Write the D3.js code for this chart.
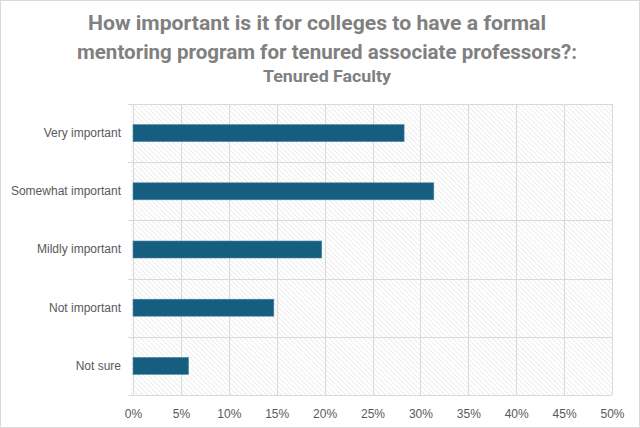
<!DOCTYPE html>
<html>
<head>
<meta charset="utf-8">
<script src="https://cdn.jsdelivr.net/npm/d3@7"></script>
<style>
  html, body { margin: 0; padding: 0; background: #fff; }
  svg { display: block; }
</style>
</head>
<body>
<div id="chart"></div>
<script>
// survey answers, top to bottom
const categories = ['Very important', 'Somewhat important', 'Mildly important', 'Not important', 'Not sure'];
const shares = [28.3, 31.4, 19.7, 14.7, 5.8];
const xTicks = [0, 5, 10, 15, 20, 25, 30, 35, 40, 45, 50];
const titleLines = ['How important is it for colleges to have a formal',
                    'mentoring program for tenured associate professors?:'];
const subtitle = 'Tenured Faculty';

const W = 640, H = 428;
const margin = { top: 104, right: 28, bottom: 33, left: 133 };

const svg = d3.select('#chart').append('svg')
  .attr('width', W)
  .attr('height', H);

// outer frame
svg.append('rect')
  .attr('x', 0.5).attr('y', 0.5)
  .attr('width', W - 1).attr('height', H - 1)
  .attr('fill', '#fff')
  .attr('stroke', '#d9d9d9');

// diagonal hatch for plot background
const pat = svg.append('defs').append('pattern')
  .attr('id', 'hatch')
  .attr('patternUnits', 'userSpaceOnUse')
  .attr('width', 3.5).attr('height', 3.5)
  .attr('patternTransform', 'rotate(-45)');
pat.append('rect').attr('width', 3.5).attr('height', 3.5).attr('fill', '#fff');
pat.append('line')
  .attr('x1', 0).attr('y1', 0).attr('x2', 0).attr('y2', 3.5)
  .attr('stroke', '#e6e6e6').attr('stroke-width', 1.4);

const x = d3.scaleLinear()
  .domain([0, 50])
  .range([margin.left, W - margin.right]);

const y = d3.scaleBand()
  .domain(categories)
  .range([margin.top, H - margin.bottom])
  .paddingInner(0)
  .paddingOuter(0);

const barH = 17;

// title
const title = svg.append('g')
  .attr('font-family', 'Roboto, "Open Sans", sans-serif')
  .attr('font-weight', 'bold')
  .attr('fill', '#808080')
  .attr('text-anchor', 'middle');

const titleWidths = [458, 500];
titleLines.forEach((t, i) => {
  title.append('text')
    .attr('x', 317 + (i === 1 ? 10 : 0))
    .attr('y', 30 + i * 29)
    .attr('font-size', 21)
    .attr('textLength', titleWidths[i])
    .attr('lengthAdjust', 'spacingAndGlyphs')
    .text(t);
});
title.append('text')
  .attr('x', 327)
  .attr('y', 82)
  .attr('font-size', 16)
  .attr('textLength', 128)
  .attr('lengthAdjust', 'spacingAndGlyphs')
  .text(subtitle);

// plot area
svg.append('rect')
  .attr('x', margin.left - 2)
  .attr('y', margin.top)
  .attr('width', x(50) - margin.left + 2)
  .attr('height', H - margin.bottom - margin.top)
  .attr('fill', 'url(#hatch)');

// vertical gridlines
svg.append('g')
  .selectAll('line')
  .data(xTicks)
  .join('line')
  .attr('x1', d => Math.round(x(d)) + 0.5)
  .attr('x2', d => Math.round(x(d)) + 0.5)
  .attr('y1', margin.top)
  .attr('y2', H - margin.bottom)
  .attr('stroke', '#d9d9d9')
  .attr('stroke-width', 1);

// horizontal category separators
const edges = categories.map(c => y(c)).concat([H - margin.bottom]);
svg.append('g')
  .selectAll('line')
  .data(edges)
  .join('line')
  .attr('x1', margin.left - 5)
  .attr('x2', x(50))
  .attr('y1', d => Math.round(d) + 0.5)
  .attr('y2', d => Math.round(d) + 0.5)
  .attr('stroke', '#d9d9d9')
  .attr('stroke-width', 1);

// bars
svg.append('g')
  .selectAll('rect')
  .data(shares)
  .join('rect')
  .attr('x', x(0))
  .attr('y', (d, i) => y(categories[i]) + y.bandwidth() / 2 - barH / 2)
  .attr('width', d => x(d) - x(0))
  .attr('height', barH)
  .attr('fill', '#165e80')
  .attr('stroke', '#4f88a2')
  .attr('stroke-width', 0.6);

// x axis labels
const xAxis = svg.append('g')
  .attr('transform', `translate(0,${H - margin.bottom})`)
  .call(d3.axisBottom(x).tickValues(xTicks).tickFormat(d => d + '%').tickSize(0).tickPadding(14));
xAxis.select('.domain').remove();
xAxis.selectAll('text')
  .attr('font-family', '"Liberation Sans", Arial, sans-serif')
  .attr('font-size', 12)
  .attr('fill', '#595959');

// y axis labels
const yAxis = svg.append('g')
  .attr('transform', `translate(${margin.left},0)`)
  .call(d3.axisLeft(y).tickSize(0).tickPadding(12));
yAxis.select('.domain').remove();
yAxis.selectAll('text')
  .attr('font-family', '"Liberation Sans", Arial, sans-serif')
  .attr('font-size', 12)
  .attr('fill', '#595959');
</script>
</body>
</html>
